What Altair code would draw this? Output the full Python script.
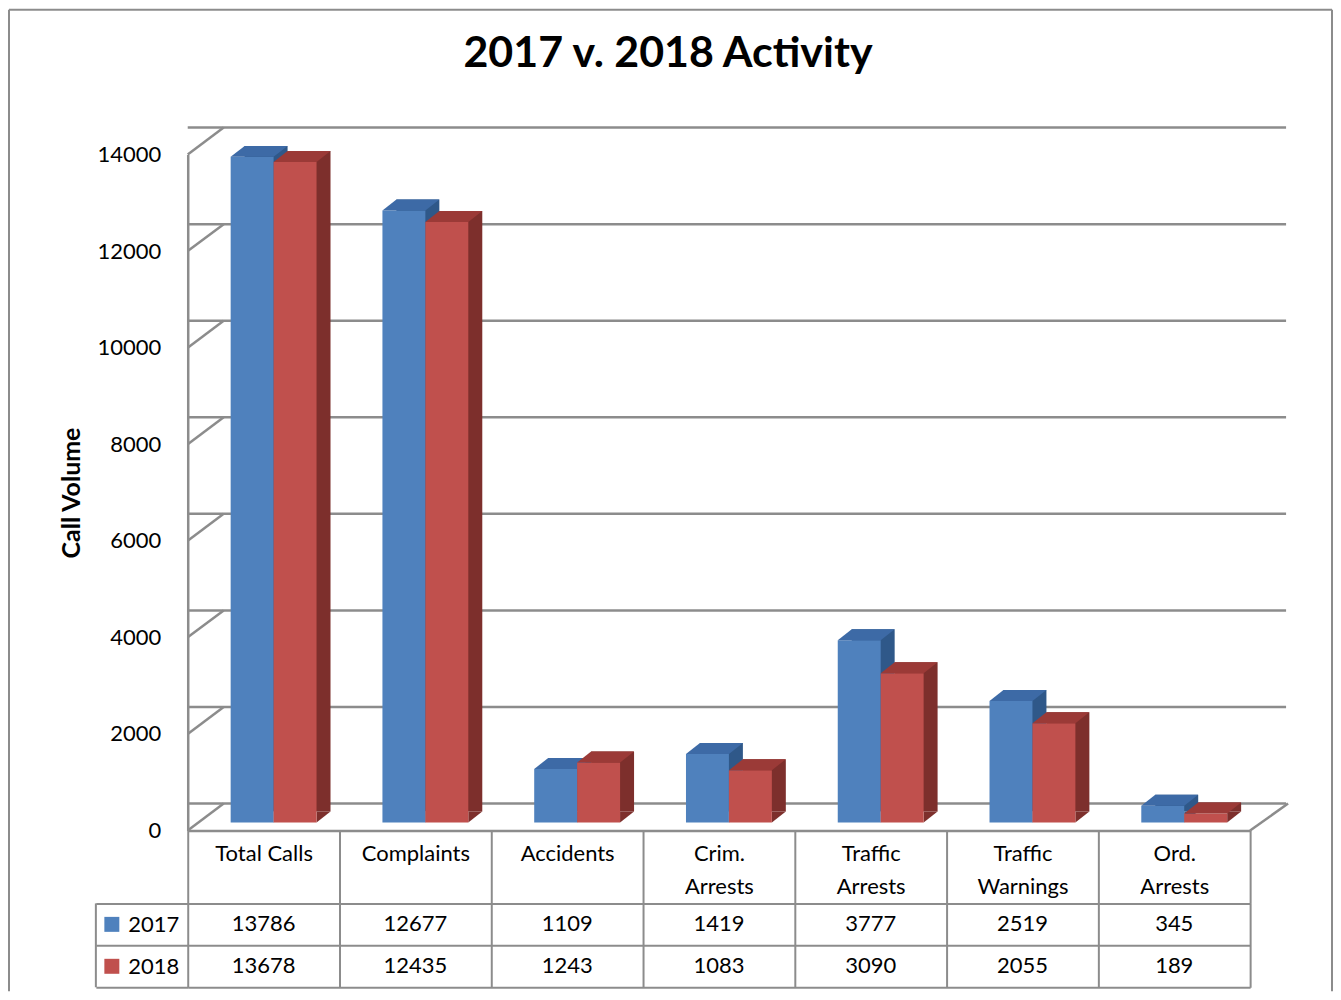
import altair as alt
import pandas as pd

# ---------------- data ----------------
categories = ["Total Calls", "Complaints", "Accidents", "Crim.\nArrests",
              "Traffic\nArrests", "Traffic\nWarnings", "Ord.\nArrests"]
years = ["2017", "2018"]
values_2017 = [13786, 12677, 1109, 1419, 3777, 2519, 345]
values_2018 = [13678, 12435, 1243, 1083, 3090, 2055, 189]
y_ticks = [0, 2000, 4000, 6000, 8000, 10000, 12000, 14000]

rows = []
for c, v in zip(categories, values_2017):
    rows.append({"cat": c, "year": "2017", "value": v})
for c, v in zip(categories, values_2018):
    rows.append({"cat": c, "year": "2018", "value": v})
df = pd.DataFrame(rows)
ticks_df = pd.DataFrame({"tick": y_ticks})

# ---------------- style ----------------
FONT = "Lato"
GRID = "#8c8c8c"
FRONT = {"2017": "#4f81bd", "2018": "#c0504d"}
TOP = {"2017": "#3d6aa6", "2018": "#9b3a37"}
SIDE = {"2017": "#2f5889", "2018": "#7d2f2c"}
W, H = 1064, 677
HEADER = 73               # height of the category-label row of the table
TBL_H = 84
DX, DY = 36, -27          # depth of the chart box
LIFT = -8                 # bar lift inside the box
BW = 43                   # bar width
BDX, BDY = 14, -11        # depth of a bar
FS = {"2017": -11.5, "2018": 31.5}   # front-face centre relative to band centre
# outer border of the figure, relative to the data-table panel
FRAME = {"left": -179, "top": -895, "right": 1146, "bottom": 88}

x_enc = alt.X(
    "cat:N", sort=categories,
    scale=alt.Scale(domain=categories, paddingInner=0, paddingOuter=0),
    axis=alt.Axis(title=None, labelAngle=0, labelExpr="split(datum.label, '\\n')",
                  labelFont=FONT, labelFontSize=22, labelColor="black",
                  labelBaseline="top", labelLineHeight=33, labelPadding=-60,
                  domainColor=GRID, domainWidth=2.5,
                  ticks=True, tickBand="extent", tickSize=HEADER,
                  tickColor=GRID, tickWidth=2, grid=False),
)
y_axis = alt.Axis(title="Call Volume", titleFont=FONT, titleFontSize=25,
                  titleFontWeight="bold", titleColor="black", titlePadding=13,
                  values=y_ticks, format="d", labelFont=FONT, labelFontSize=22,
                  labelColor="black", labelPadding=27, ticks=False, grid=False,
                  domainColor=GRID, domainWidth=2.5)
y_scale = alt.Scale(domain=[0, 14000], nice=False)


def y_of(field):
    return alt.Y(field, scale=y_scale, axis=y_axis)


one = alt.Chart(ticks_df).transform_filter("datum.tick == 0")
layers = []

# back wall grid lines
layers.append(
    alt.Chart(ticks_df).mark_rule(color=GRID, strokeWidth=2.5, xOffset=DX, x2Offset=DX + 2, yOffset=DY)
    .encode(y=y_of("tick:Q"))
)
# left wall diagonals
layers.append(
    alt.Chart(ticks_df).mark_rule(color=GRID, strokeWidth=2.5, y2Offset=DY)
    .encode(x=alt.value(0), x2=alt.value(DX), y=y_of("tick:Q"), y2="tick:Q")
)
# floor right diagonal
layers.append(
    one.mark_rule(color=GRID, strokeWidth=2.5, y2Offset=DY)
    .encode(x=alt.value(W), x2=alt.value(W + DX + 2), y=y_of("tick:Q"), y2="tick:Q")
)

para_path = "M-1,0.193 L0.509,0.193 L1,-0.193 L-0.509,-0.193 Z"
tri_path = "M-1,0.786 L-1,-0.786 L1,-0.786 Z"

for yr in years:
    base = alt.Chart(df).transform_filter(f"datum.year == '{yr}'")
    f = FS[yr]
    # side face
    layers.append(
        base.mark_bar(color=SIDE[yr], width=BW, xOffset=f + BDX,
                      yOffset=LIFT + BDY, y2Offset=LIFT + BDY)
        .encode(x=x_enc, y=y_of("value:Q"), y2=alt.datum(0))
    )
    # lower corner of side face
    layers.append(
        base.transform_calculate(zero="0")
        .mark_point(shape=tri_path, size=196, filled=True, opacity=1, strokeWidth=0,
                    color=SIDE[yr], xOffset=f + BW / 2 + BDX / 2, yOffset=LIFT + BDY / 2)
        .encode(x=x_enc, y=y_of("zero:Q"))
    )
    # front face
    layers.append(
        base.mark_bar(color=FRONT[yr], width=BW, xOffset=f, yOffset=LIFT, y2Offset=LIFT)
        .encode(x=x_enc, y=y_of("value:Q"), y2=alt.datum(0))
    )
    # top face
    layers.append(
        base.mark_point(shape=para_path, size=(BW + BDX) ** 2, filled=True, opacity=1,
                        strokeWidth=0, color=TOP[yr], xOffset=f + BDX / 2,
                        yOffset=LIFT + BDY / 2)
        .encode(x=x_enc, y=y_of("value:Q"))
    )

top = alt.layer(*layers).properties(
    width=W, height=H,
    title=alt.Title("2017 v. 2018 Activity", font=FONT, fontSize=43, fontWeight="bold",
                    color="black", anchor="middle", offset=50, dx=-51),
)

# ---------------- data table ----------------
color_enc = alt.Color("year:N", sort=years,
                      scale=alt.Scale(domain=years, range=[FRONT["2017"], FRONT["2018"]]),
                      legend=None)
tx = alt.X("cat:N", sort=categories,
           scale=alt.Scale(domain=categories, paddingInner=0, paddingOuter=0),
           axis=alt.Axis(title=None, labels=False, ticks=False, domain=False, grid=True,
                         tickBand="extent", gridColor=GRID, gridWidth=2))
ty = alt.Y("year:N", sort=years,
           scale=alt.Scale(domain=years, paddingInner=0, paddingOuter=0),
           axis=alt.Axis(title=None, grid=True, tickBand="extent", gridColor=GRID, gridWidth=2,
                         domain=False, ticks=True, tickSize=92, tickColor=GRID, tickWidth=2,
                         labelPadding=-83, labelFont=FONT, labelFontSize=22,
                         labelColor="black", labelAlign="right"))

tbl_text = alt.Chart(df).mark_text(font=FONT, fontSize=22, color="black").encode(
    x=tx, y=ty, text=alt.Text("value:Q", format="d"))
tbl_keys = alt.Chart(df).transform_filter("datum.cat == 'Total Calls'").mark_point(
    shape="square", filled=True, size=225, opacity=1).encode(
    x=alt.value(-76), y=ty, color=color_enc)
tbl_edge = one.mark_rule(color=GRID, strokeWidth=2).encode(
    x=alt.value(-92), y=alt.value(0), y2=alt.value(TBL_H))

# outer frame of the whole figure (left, top, right)
frame_rule = dict(color=GRID, strokeWidth=2)
frame_l = one.mark_rule(**frame_rule).encode(
    x=alt.value(FRAME["left"]), y=alt.value(FRAME["top"]), y2=alt.value(FRAME["bottom"]))
frame_r = one.mark_rule(**frame_rule).encode(
    x=alt.value(FRAME["right"]), y=alt.value(FRAME["top"]), y2=alt.value(FRAME["bottom"]))
frame_t = one.mark_rule(**frame_rule).encode(
    x=alt.value(FRAME["left"]), x2=alt.value(FRAME["right"]), y=alt.value(FRAME["top"]))

table = alt.layer(frame_l, frame_r, frame_t, tbl_edge, tbl_text, tbl_keys).properties(
    width=W, height=TBL_H)

chart = alt.vconcat(top, table, spacing=HEADER, bounds="flush").properties(
    padding={"left": 0, "top": 0, "right": 0, "bottom": 0},
    background="white",
).configure_view(stroke=None, strokeWidth=0)

chart.save("out.html", embed_options={"renderer": "svg", "actions": False})
